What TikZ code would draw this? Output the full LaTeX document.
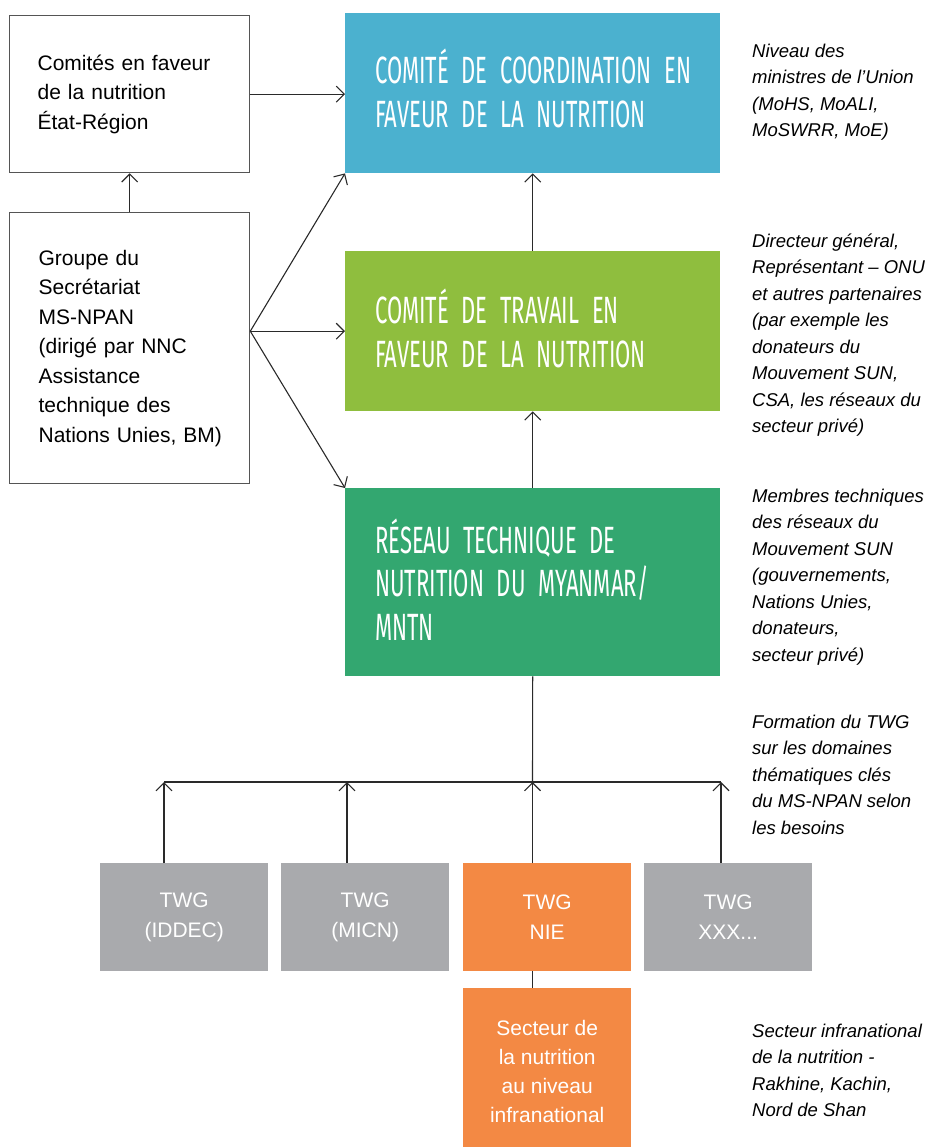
\documentclass[tikz,border=0pt]{standalone}
\usepackage{fontspec}
\setmainfont{Liberation Sans}
\newfontfamily\titlefont[FakeStretch=0.58,WordSpace=0.6]{Fira Sans}
\usetikzlibrary{arrows.meta}
\definecolor{cblue}{HTML}{4BB1CF}
\definecolor{cgreen}{HTML}{8FBE3E}
\definecolor{cdkgreen}{HTML}{33A770}
\definecolor{cgray}{HTML}{A9AAAD}
\definecolor{corange}{HTML}{F38944}
\definecolor{bordergray}{HTML}{555555}
\definecolor{linecol}{HTML}{2A2A2A}
\newcommand{\lift}[1]{\rule[-#1pt]{0pt}{0pt}}
\begin{document}
\begin{tikzpicture}[x=1pt,y=-1pt,
  outline/.style={draw=bordergray, line width=1.3pt, fill=white, inner sep=0pt,
    anchor=north west, align=left, text=black,
    font=\fontsize{21}{29.5}\selectfont},
  titlebox/.style={draw=none, inner sep=0pt, anchor=north west, align=left,
    text=white, minimum width=375pt, text width=315pt,
    font=\titlefont\fontsize{38}{43.5}\selectfont},
  twgbox/.style={draw=none, inner sep=0pt, anchor=north west, align=center,
    text=white, minimum width=168pt, minimum height=108pt,
    font=\fontsize{21}{30}\selectfont},
  note/.style={inner sep=0pt, anchor=north west, align=left, text=black,
    font=\fontsize{18.5}{26.5}\selectfont\itshape},
  arr/.style={draw=linecol, line width=1.1pt, -{Straight Barb[length=8pt,width=16pt]}},
  conn/.style={draw=linecol, line width=1.1pt}
]
\useasboundingbox (0,0) rectangle (929,1147);

% left boxes
\node[outline, minimum width=240pt, minimum height=157pt, text width=184pt] (a) at (9,15)
  {\mbox{Comités en faveur}\\\mbox{de la nutrition}\\\mbox{État-Région}};
\node[outline, minimum width=240pt, minimum height=271pt, text width=182pt] (b) at (9,212)
  {\mbox{Groupe du}\\\mbox{Secrétariat}\\\mbox{MS-NPAN}\\\mbox{(dirigé par NNC}\\\mbox{Assistance}\\\mbox{technique des}\\\mbox{Nations Unies, BM)}};

% coloured title boxes
\node[titlebox, fill=cblue, minimum height=160pt] (c1) at (345,13)
  {\mbox{COMITÉ DE COORDINATION EN}\\\mbox{FAVEUR DE LA NUTRITION}\lift{10}};
\node[titlebox, fill=cgreen, minimum height=160pt] (c2) at (345,251)
  {\mbox{COMITÉ DE TRAVAIL EN}\\\mbox{FAVEUR DE LA NUTRITION}\lift{6}};
\node[titlebox, fill=cdkgreen, minimum height=188pt] (c3) at (345,488)
  {\mbox{RÉSEAU TECHNIQUE DE}\\\mbox{NUTRITION DU MYANMAR/}\\\mbox{MNTN}\lift{6}};

% TWG boxes
\node[twgbox, fill=cgray] (t1) at (100,863) {TWG\\(IDDEC)};
\node[twgbox, fill=cgray] (t2) at (281,863) {TWG\\(MICN)};
\node[twgbox, fill=corange] (t3) at (463,863) {TWG\\NIE};
\node[twgbox, fill=cgray] (t4) at (644,863) {TWG\\XXX...};
\node[twgbox, fill=corange, minimum height=166pt, font=\fontsize{21}{29}\selectfont] (s) at (463,988)
  {Secteur de\\la nutrition\\au niveau\\infranational};

% notes
\node[note] (n1) at (752,43.6) {Niveau des\\ministres de l’Union\\(MoHS, MoALI,\\MoSWRR, MoE)};
\node[note] (n2) at (752,233.4) {Directeur général,\\Représentant – ONU\\et autres partenaires\\(par exemple les\\donateurs du\\Mouvement SUN,\\CSA, les réseaux du\\secteur privé)};
\node[note] (n3) at (752,488.6) {Membres techniques\\des réseaux du\\Mouvement SUN\\(gouvernements,\\Nations Unies,\\donateurs,\\secteur privé)};
\node[note] (n4) at (752,714.4) {Formation du TWG\\sur les domaines\\thématiques clés\\du MS-NPAN selon\\les besoins};
\node[note] (n5) at (752,1023.4) {Secteur infranational\\de la nutrition -\\Rakhine, Kachin,\\Nord de Shan};

% junctions
\coordinate (bo) at (b.north east |- c2.west);
\coordinate (j1) at (164,782);
\coordinate (j2) at (347,782);
\coordinate (j3) at (532.5,782);
\coordinate (j4) at (721,782);

% connectors
\draw[arr] (a.east) -- (a.east -| c1.west);
\draw[arr] (b.north) -- (a.south);
\draw[arr] (bo) -- (c1.south west);
\draw[arr] (bo) -- (c2.west);
\draw[arr] (bo) -- (c3.north west);
\draw[arr] (c2.north) -- (c1.south);
\draw[arr] (c3.north) -- (c2.south);
\draw[conn] (c3.south) -- (j3);
\draw[conn] (j1) -- (j4);
\draw[arr] (t1.north -| j1) -- (j1);
\draw[arr] (t2.north -| j2) -- (j2);
\draw[arr] (t3.north -| j3) -- (j3);
\draw[arr] (t4.north -| j4) -- (j4);
\draw[conn] (t3.south -| j3) -- (s.north -| j3);
\end{tikzpicture}
\end{document}
